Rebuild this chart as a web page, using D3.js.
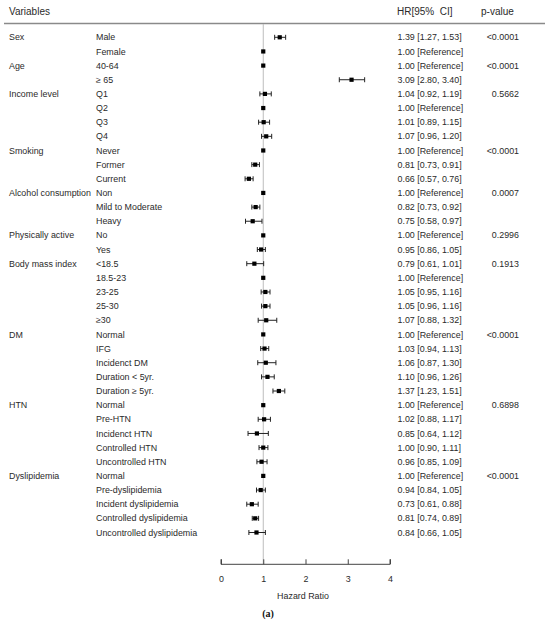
<!DOCTYPE html>
<html><head><meta charset="utf-8">
<script src="https://cdn.jsdelivr.net/npm/d3@7"></script>
<style>
body{margin:0;background:#fff;}
svg{display:block;font-family:"Liberation Sans",Arial,sans-serif;}
</style></head>
<body><svg id="c" width="550" height="622"></svg>
<script>
const groups = ["Sex","","Age","","Income level","","","","Smoking","","","Alcohol consumption","","","Physically active","","Body mass index","","","","","DM","","","","","HTN","","","","","Dyslipidemia","","","",""];
const levels = ["Male","Female","40-64","≥ 65","Q1","Q2","Q3","Q4","Never","Former","Current","Non","Mild to Moderate","Heavy","No","Yes","<18.5","18.5-23","23-25","25-30","≥30","Normal","IFG","Incidenct DM","Duration < 5yr.","Duration ≥ 5yr.","Normal","Pre-HTN","Incidenct HTN","Controlled HTN","Uncontrolled HTN","Normal","Pre-dyslipidemia","Incident dyslipidemia","Controlled dyslipidemia","Uncontrolled dyslipidemia"];
const hr = [1.39,1.00,1.00,3.09,1.04,1.00,1.01,1.07,1.00,0.81,0.66,1.00,0.82,0.75,1.00,0.95,0.79,1.00,1.05,1.05,1.07,1.00,1.03,1.06,1.10,1.37,1.00,1.02,0.85,1.00,0.96,1.00,0.94,0.73,0.81,0.84];
const lo = [1.27,null,null,2.80,0.92,null,0.89,0.96,null,0.73,0.57,null,0.73,0.58,null,0.86,0.61,null,0.95,0.96,0.88,null,0.94,0.87,0.96,1.23,null,0.88,0.64,0.90,0.85,null,0.84,0.61,0.74,0.66];
const hi = [1.53,null,null,3.40,1.19,null,1.15,1.20,null,0.91,0.76,null,0.92,0.97,null,1.05,1.01,null,1.16,1.16,1.32,null,1.13,1.30,1.26,1.51,null,1.17,1.12,1.11,1.09,null,1.05,0.88,0.89,1.05];
const pvals = ["<0.0001","","<0.0001","","0.5662","","","","<0.0001","","","0.0007","","","0.2996","","0.1913","","","","","<0.0001","","","","","0.6898","","","","","<0.0001","","","",""];
const xTicks = [0,1,2,3,4];

const svg = d3.select("#c");
const txt = "#2a2a2a";
const rows = d3.range(levels.length);
const y = d3.scalePoint().domain(rows).range([37.3, 532.5]);
const x = d3.scaleLinear().domain([0,4]).range([221,390]);
const axisY = 564.3;

// header
svg.append("text").attr("x",9).attr("y",15).attr("font-size",10).attr("fill",txt).text("Variables");
svg.append("text").attr("x",397).attr("y",15).attr("font-size",10).attr("fill",txt).attr("xml:space","preserve").text("HR[95%  CI]");
svg.append("text").attr("x",481).attr("y",15).attr("font-size",10).attr("fill",txt).text("p-value");
svg.append("line").attr("x1",4).attr("x2",545).attr("y1",23.5).attr("y2",23.5).attr("stroke","#8a8a8a").attr("stroke-width",1.4);

// reference line
svg.append("line").attr("x1",x(1)).attr("x2",x(1)).attr("y1",24).attr("y2",axisY).attr("stroke","#bdbdbd").attr("stroke-width",1);

const g = svg.append("g").attr("font-size",8.9).attr("fill",txt);
const r = g.selectAll("g.row").data(rows).enter().append("g").attr("class","row");
r.append("text").attr("x",9).attr("y",i=>y(i)).attr("dy","0.35em").text(i=>groups[i]);
r.append("text").attr("x",96).attr("y",i=>y(i)).attr("dy","0.35em").text(i=>levels[i]);
r.append("text").attr("x",397.5).attr("y",i=>y(i)).attr("dy","0.35em")
  .text(i=> lo[i]==null ? hr[i].toFixed(2)+" [Reference]" : `${hr[i].toFixed(2)} [${lo[i].toFixed(2)}, ${hi[i].toFixed(2)}]`);
r.append("text").attr("x",519).attr("y",i=>y(i)).attr("dy","0.35em").attr("text-anchor","end").text(i=>pvals[i]);

// CI
const ci = rows.filter(i=>lo[i]!=null);
const m = svg.append("g").attr("stroke","#222").attr("stroke-width",1);
m.selectAll("line.ci").data(ci).enter().append("line")
  .attr("x1",i=>x(lo[i])).attr("x2",i=>x(hi[i])).attr("y1",i=>y(i)).attr("y2",i=>y(i));
m.selectAll("line.lc").data(ci).enter().append("line")
  .attr("x1",i=>x(lo[i])).attr("x2",i=>x(lo[i])).attr("y1",i=>y(i)-2.5).attr("y2",i=>y(i)+2.5);
m.selectAll("line.hc").data(ci).enter().append("line")
  .attr("x1",i=>x(hi[i])).attr("x2",i=>x(hi[i])).attr("y1",i=>y(i)-2.5).attr("y2",i=>y(i)+2.5);
const s = 4.2;
svg.append("g").selectAll("rect").data(rows).enter().append("rect")
  .attr("x",i=>x(hr[i])-s/2).attr("y",i=>y(i)-s/2).attr("width",s).attr("height",s).attr("fill","#000");

// axis
const ax = svg.append("g").attr("transform",`translate(0,${axisY})`)
  .call(d3.axisTop(x).tickValues(xTicks).tickSize(5).tickFormat(d3.format("d")));
ax.select(".domain").attr("stroke","#444").attr("d",`M${x(0)},-5V0H${x(4)}V-5`);
ax.selectAll(".tick line").attr("stroke","#444");
ax.selectAll(".tick text").attr("y",15).attr("dy","0.35em").attr("font-size",8.9).attr("fill",txt).attr("font-family","Liberation Sans, Arial, sans-serif");
svg.append("text").attr("x",303).attr("y",596).attr("dy","0.35em").attr("text-anchor","middle").attr("font-size",8.9).attr("fill",txt).text("Hazard Ratio");
svg.append("text").attr("x",268).attr("y",613).attr("dy","0.35em").attr("text-anchor","middle").attr("font-size",10).attr("font-weight","bold").attr("font-family","Liberation Serif, Times New Roman, serif").attr("fill","#111").text("(a)");
</script></body></html>
